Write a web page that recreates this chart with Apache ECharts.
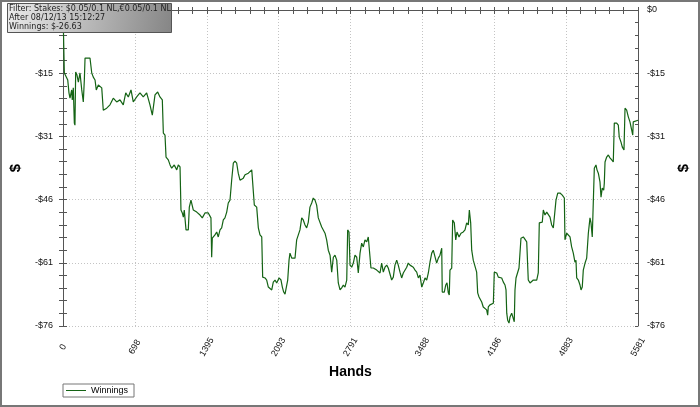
<!DOCTYPE html>
<html>
<head>
<meta charset="utf-8">
<script src="https://cdn.jsdelivr.net/npm/echarts@6/dist/echarts.min.js"></script>
<style>
  html, body { margin: 0; padding: 0; background: #fff; }
  #chart { width: 700px; height: 407px; }
</style>
</head>
<body>
<div id="chart"></div>
<script>
// hand number and running winnings ($)
const hands = [0, 13, 29, 46, 58, 68, 84, 90, 100, 110, 116, 123, 136, 149, 165, 182, 197, 207, 214, 230,
  262, 279, 294, 311, 323, 343, 376, 391, 424, 456, 488, 521, 553, 585, 609, 634, 660, 682, 715, 747,
  779, 812, 844, 867, 893, 919, 941, 964, 974, 990, 1000, 1022, 1039, 1055, 1080, 1104, 1119, 1136, 1145, 1158,
  1168, 1177, 1194, 1216, 1226, 1242, 1265, 1298, 1330, 1352, 1378, 1410, 1427, 1436, 1443, 1449, 1475, 1492, 1507, 1524,
  1540, 1556, 1572, 1589, 1604, 1621, 1637, 1653, 1669, 1686, 1701, 1718, 1734, 1750, 1767, 1799, 1832, 1847, 1857, 1880,
  1896, 1912, 1929, 1938, 1961, 1977, 1993, 2009, 2026, 2041, 2058, 2074, 2097, 2116, 2129, 2142, 2155, 2171, 2181, 2194,
  2203, 2220, 2252, 2268, 2284, 2300, 2317, 2332, 2349, 2365, 2381, 2397, 2414, 2429, 2446, 2462, 2478, 2494, 2511, 2543,
  2559, 2575, 2592, 2608, 2624, 2640, 2657, 2672, 2689, 2705, 2721, 2737, 2754, 2763, 2776, 2786, 2802, 2818, 2834, 2851,
  2866, 2883, 2899, 2915, 2931, 2948, 2963, 2980, 2989, 3012, 3045, 3077, 3093, 3109, 3125, 3142, 3157, 3174, 3190, 3206,
  3222, 3239, 3254, 3271, 3287, 3303, 3319, 3336, 3351, 3368, 3400, 3417, 3433, 3449, 3465, 3482, 3497, 3514, 3530, 3546,
  3562, 3579, 3594, 3611, 3627, 3643, 3659, 3676, 3681, 3701, 3715, 3727, 3740, 3749, 3756, 3773, 3782, 3798, 3812, 3824,
  3844, 3863, 3885, 3902, 3918, 3934, 3944, 3957, 3967, 3982, 3999, 4015, 4025, 4038, 4054, 4064, 4079, 4096, 4112, 4122,
  4128, 4144, 4161, 4177, 4186, 4210, 4225, 4242, 4258, 4274, 4290, 4300, 4307, 4316, 4329, 4339, 4355, 4371, 4380, 4387,
  4397, 4413, 4426, 4436, 4445, 4468, 4484, 4501, 4516, 4533, 4549, 4565, 4598, 4613, 4623, 4639, 4652, 4662, 4678, 4695,
  4710, 4727, 4743, 4759, 4775, 4785, 4802, 4824, 4846, 4866, 4872, 4889, 4904, 4921, 4937, 4953, 4969, 4979, 4986, 5002,
  5018, 5028, 5040, 5050, 5067, 5083, 5099, 5115, 5125, 5137, 5147, 5157, 5173, 5183, 5196, 5212, 5222, 5234, 5248, 5254,
  5261, 5277, 5293, 5309, 5326, 5341, 5351, 5374, 5390, 5399, 5416, 5429, 5445, 5455, 5471, 5487, 5503, 5520, 5530, 5535,
  5552, 5581];
const winnings = [0, -15.2, -15.2, -16.9, -20.0, -21.3, -19.3, -21.7, -18.8, -27.3, -27.8, -15.0, -15.7, -17.4, -15.2, -19.3, -22.2, -16.9, -11.6, -11.4,
  -11.6, -15.2, -16.2, -16.9, -19.3, -18.1, -18.8, -24.2, -23.7, -22.9, -21.3, -22.2, -21.7, -22.9, -20.0, -21.0, -19.3, -22.2, -21.0, -20.0,
  -21.0, -20.0, -22.9, -25.4, -20.5, -19.8, -21.0, -21.7, -29.7, -30.2, -35.5, -36.2, -37.4, -38.2, -37.4, -38.6, -37.4, -37.9, -48.3, -49.0,
  -50.0, -48.3, -53.1, -53.1, -47.6, -45.9, -48.3, -48.8, -49.5, -50.2, -49.0, -49.0, -49.0, -50.2, -59.7, -55.1, -54.3, -53.6, -54.8, -53.1,
  -52.6, -50.7, -50.2, -48.8, -46.6, -45.9, -41.1, -37.0, -36.5, -37.0, -39.4, -41.1, -41.5, -40.6, -39.8, -39.4, -38.6, -38.2, -47.1, -47.6,
  -52.6, -54.3, -54.8, -64.5, -64.7, -65.2, -66.9, -67.1, -67.6, -65.7, -65.2, -65.9, -64.7, -65.2, -66.9, -68.1, -68.6, -68.3, -65.2, -60.4,
  -58.7, -59.9, -59.9, -55.5, -54.3, -53.1, -50.2, -50.7, -51.9, -52.6, -51.2, -47.6, -46.6, -45.4, -45.9, -47.1, -50.2, -50.0, -52.4, -53.9,
  -55.5, -58.0, -59.2, -63.3, -59.7, -59.2, -60.4, -65.9, -67.6, -67.1, -66.4, -66.9, -65.2, -53.1, -53.6, -61.6, -62.1, -61.1, -59.2, -59.7,
  -63.5, -58.7, -56.3, -57.2, -55.5, -56.0, -54.8, -54.8, -62.3, -62.3, -62.8, -63.5, -61.1, -63.3, -62.1, -61.6, -62.3, -62.1, -65.2, -64.5,
  -61.6, -60.4, -61.6, -63.3, -64.7, -63.5, -63.3, -62.1, -61.1, -61.6, -62.1, -62.8, -63.3, -64.7, -64.0, -66.9, -65.9, -64.7, -65.2, -63.5,
  -60.9, -58.7, -58.0, -58.4, -61.1, -59.9, -59.2, -57.5, -68.1, -68.1, -66.4, -65.9, -68.3, -68.8, -62.8, -62.3, -50.7, -51.4, -55.5, -53.6,
  -54.8, -53.9, -53.6, -53.1, -51.4, -51.9, -48.3, -51.4, -58.0, -60.4, -60.4, -63.3, -68.3, -69.3, -69.3, -70.5, -71.7, -72.0, -72.4, -73.7,
  -71.7, -71.2, -71.2, -70.8, -63.3, -63.5, -64.5, -64.5, -64.7, -65.7, -66.4, -67.6, -73.2, -74.9, -75.6, -74.1, -73.2, -72.9, -75.3, -67.6,
  -64.7, -64.5, -62.3, -62.1, -55.1, -54.8, -55.1, -56.0, -65.2, -65.9, -65.7, -65.2, -65.2, -63.5, -51.4, -51.4, -51.2, -48.3, -49.5, -48.8,
  -49.0, -50.0, -51.9, -52.6, -52.4, -45.9, -44.2, -44.2, -44.7, -45.4, -55.5, -53.9, -53.6, -54.8, -57.2, -58.7, -60.9, -60.4, -64.7, -65.2,
  -66.4, -67.6, -66.9, -62.8, -61.1, -59.9, -53.9, -50.2, -51.4, -54.8, -54.8, -38.2, -37.4, -38.6, -39.4, -41.5, -45.2, -43.0, -43.5, -41.8,
  -36.7, -35.5, -35.0, -35.7, -36.2, -36.7, -27.3, -27.3, -27.8, -30.7, -31.9, -33.1, -33.8, -23.7, -24.2, -25.8, -27.0, -26.6, -30.2, -27.0,
  -27.0, -26.63];

const infoLines = ['Filter: Stakes: $0.05/0.1 NL,\u20ac0.05/0.1 NL', 'After 08/12/13 15:12:27', 'Winnings: $-26.63'];

const X_MAX = 5581;
const Y_MIN = -76.3;

let myChart = echarts.init(document.getElementById('chart'));

const axisCol = '#555';
const fmtDollar = function (v) {
  let r = Math.round(v);
  return (r < 0 ? '-' : '') + '$' + Math.abs(r);
};

// x axis copies: one carries labels and outside ticks, one only inside ticks, one on top
function xCopy (extra) {
  return Object.assign({
    type: 'value', min: 0, max: X_MAX, interval: X_MAX / 8,
    axisLine: { show: true, lineStyle: { color: axisCol } },
    axisTick: { show: true, length: 4, lineStyle: { color: axisCol } },
    minorTick: { show: true, splitNumber: 5, length: 4, lineStyle: { color: axisCol } },
    axisLabel: { show: false },
    splitLine: { show: false }
  }, extra);
}
function yCopy (extra) {
  return Object.assign({
    type: 'value', min: Y_MIN, max: 0, interval: -Y_MIN / 5,
    axisLine: { show: true, lineStyle: { color: axisCol } },
    axisTick: { show: true, length: 4, lineStyle: { color: axisCol } },
    minorTick: { show: true, splitNumber: 5, length: 4, lineStyle: { color: axisCol } },
    axisLabel: { show: false },
    splitLine: { show: false }
  }, extra);
}

const yName = {
  name: '$', nameLocation: 'middle', nameRotate: 90,
  nameTextStyle: { fontFamily: 'Liberation Sans', fontWeight: 'bold', fontSize: 15, color: '#000' }
};
function yLabel (m) {
  return { show: true, formatter: fmtDollar, fontFamily: 'Liberation Sans', fontSize: 9, color: '#111', margin: m };
}

let option = {
  animation: false,
  backgroundColor: '#fff',
  grid: { left: 63, right: 62, top: 10, bottom: 81, outerBoundsMode: 'none', containLabel: false },
  xAxis: [
    xCopy({
      position: 'bottom',
      name: 'Hands', nameLocation: 'middle', nameGap: 38,
      nameTextStyle: { fontFamily: 'Liberation Sans', fontWeight: 'bold', fontSize: 14, color: '#000' },
      axisLabel: {
        show: true, rotate: 60, margin: 21, align: 'center', verticalAlign: 'middle',
        fontFamily: 'Liberation Sans', fontSize: 9, color: '#111',
        formatter: function (v) { return String(Math.round(v)); }
      },
      splitLine: { show: true, lineStyle: { color: '#c4c4c4', type: [1, 2] } }
    }),
    xCopy({ position: 'bottom', axisTick: { show: true, inside: true, length: 3, lineStyle: { color: axisCol } },
      minorTick: { show: true, splitNumber: 5, length: 3, lineStyle: { color: axisCol } } }),
    xCopy({ position: 'top', axisTick: { show: true, inside: true, length: 4, lineStyle: { color: axisCol } },
      minorTick: { show: true, splitNumber: 5, length: 4, lineStyle: { color: axisCol } } })
  ],
  yAxis: [
    yCopy(Object.assign({ position: 'left', nameGap: 40, axisLabel: yLabel(10),
      splitLine: { show: true, lineStyle: { color: '#c4c4c4', type: [1, 2] } } }, yName)),
    yCopy(Object.assign({ position: 'right', nameGap: 34, axisLabel: yLabel(9) }, yName)),
    yCopy({ position: 'left', axisTick: { show: true, inside: true, length: 3, lineStyle: { color: axisCol } },
      minorTick: { show: true, splitNumber: 5, length: 3, lineStyle: { color: axisCol } } }),
    yCopy({ position: 'right', axisTick: { show: true, inside: true, length: 3, lineStyle: { color: axisCol } },
      minorTick: { show: true, splitNumber: 5, length: 3, lineStyle: { color: axisCol } } })
  ],
  legend: {
    left: 63, top: 384,
    orient: 'horizontal',
    data: ['Winnings'],
    icon: 'rect', itemWidth: 20, itemHeight: 1,
    padding: [2, 6, 2, 3],
    borderColor: '#777', borderWidth: 1,
    textStyle: { fontFamily: 'Liberation Sans', fontSize: 9, color: '#000' }
  },
  series: [{
    name: 'Winnings',
    type: 'line',
    xAxisIndex: 0,
    yAxisIndex: 0,
    data: hands.map(function (h, i) { return [h, winnings[i]]; }),
    showSymbol: false,
    symbol: 'none',
    color: '#146314',
    lineStyle: { width: 1.2, color: '#146314' }
  }],
  graphic: [
    {
      type: 'rect', z: 100, silent: true,
      shape: { x: 1, y: 1, width: 698, height: 405 },
      style: { fill: 'none', stroke: '#777', lineWidth: 2 }
    },
    {
      type: 'rect', z: 100, silent: true,
      shape: { x: 7.5, y: 3.5, width: 164, height: 29 },
      style: {
        fill: new echarts.graphic.LinearGradient(0, 0, 1, 1, [
          { offset: 0, color: '#ececec' },
          { offset: 1, color: '#858585' }
        ]),
        stroke: '#555', lineWidth: 1
      }
    }
  ].concat(infoLines.map(function (t, i) {
    return {
      type: 'text', z: 101, silent: true, x: 9, y: 4.5 + i * 9.3,
      style: { text: t, fill: '#222', font: '8px "DejaVu Sans", sans-serif' }
    };
  }))
};

option && myChart.setOption(option);
</script>
</body>
</html>
